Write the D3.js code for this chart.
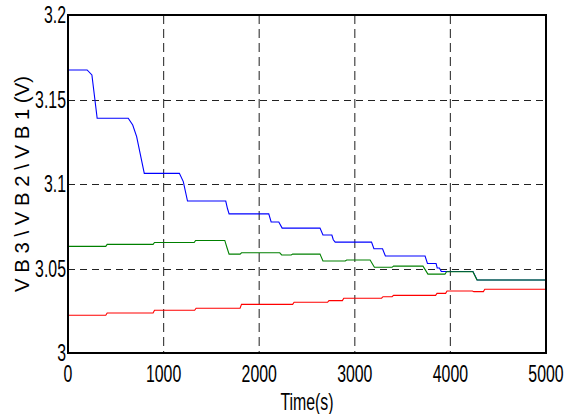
<!DOCTYPE html>
<html><head><meta charset="utf-8">
<script src="https://cdn.jsdelivr.net/npm/d3@7"></script>
<style>body{margin:0;background:#fff}svg{display:block}</style>
</head><body>
<svg id="c" width="571" height="414"></svg>
<script>
const xTicks = [0, 1000, 2000, 3000, 4000, 5000];
const yTicks = [3, 3.05, 3.1, 3.15, 3.2];
const yTickLabels = ["3", "3.05", "3.1", "3.15", "3.2"];
const xLabel = "Time(s)";
const yLabel = "V B 3 \\ V B 2 \\ V B 1 (V)";

const vb1 = [[0,3.1675],[200,3.1675],[250,3.1645],[305,3.1389],[630,3.1389],[677,3.1349],[718,3.128],[798,3.1063],[1165,3.1063],[1206,3.1014],[1250,3.0899],[1650,3.0899],[1668,3.0855],[1685,3.0823],[2100,3.0823],[2125,3.0775],[2205,3.0775],[2240,3.0739],[2636,3.0739],[2667,3.0698],[2760,3.0698],[2775,3.067],[2795,3.0656],[3175,3.0656],[3200,3.0617],[3290,3.0617],[3320,3.0574],[3735,3.0574],[3760,3.053],[3850,3.053],[3862,3.0503],[3885,3.0503],[3905,3.0482],[4236,3.0482],[4280,3.0432],[5000,3.0432]];
const vb2 = [[0,3.0631],[395,3.0631],[410,3.0643],[890,3.0643],[905,3.0654],[1320,3.0654],[1335,3.0666],[1640,3.0666],[1665,3.062],[1685,3.0585],[1800,3.0585],[1815,3.0593],[2215,3.0593],[2235,3.058],[2335,3.058],[2350,3.0585],[2636,3.0585],[2667,3.0544],[2900,3.0544],[2915,3.055],[3160,3.055],[3205,3.0507],[3390,3.0507],[3405,3.0514],[3713,3.0514],[3765,3.0467],[3943,3.0467],[3960,3.0481],[4236,3.0481],[4278,3.0432],[5000,3.0432]];
const vb3 = [[0,3.0223],[395,3.0223],[410,3.0237],[890,3.0237],[905,3.0253],[1325,3.0253],[1340,3.0265],[1800,3.0265],[1815,3.0288],[2350,3.0288],[2365,3.03],[2715,3.03],[2730,3.031],[2870,3.031],[2885,3.0324],[3280,3.0324],[3295,3.0333],[3390,3.0333],[3405,3.0341],[3845,3.0341],[3860,3.0353],[3950,3.0353],[3965,3.0367],[4230,3.0367],[4245,3.0363],[4345,3.0363],[4360,3.0377],[5000,3.0377]];

const svg = d3.select("#c");
const L = 68, R = 546, T = 15, B = 353;
const x = d3.scaleLinear().domain([0, 5000]).range([L, R]);
const y = d3.scaleLinear().domain([3, 3.2]).range([B, T]);
const font = "'Liberation Sans', Arial, sans-serif";
const FS = 23, SX = 0.69;

// grid
const g = svg.append("g");
g.selectAll("line.vx").data(xTicks.slice(1, -1)).join("line")
  .attr("x1", d => x(d)).attr("x2", d => x(d))
  .attr("y1", T).attr("y2", B)
  .attr("stroke", "#444").attr("stroke-width", 1.2).attr("stroke-dasharray", "9,5");
g.selectAll("line.hy").data(yTicks.slice(1, -1)).join("line")
  .attr("y1", d => Math.round(y(d)) + 0.5).attr("y2", d => Math.round(y(d)) + 0.5)
  .attr("x1", L).attr("x2", R)
  .attr("stroke", "#222").attr("stroke-width", 1).attr("stroke-dasharray", "7,5");

// lines
const line = d3.line().x(d => x(d[0])).y(d => y(d[1]));
[[vb3, "#ff0000"], [vb1, "#0000ff"], [vb2, "#008000"]].forEach(([data, col]) => {
  svg.append("path").datum(data).attr("d", line).attr("fill", "none")
    .attr("stroke", col).attr("stroke-width", 1.1);
});

// frame
svg.append("rect").attr("x", L).attr("y", T).attr("width", R - L).attr("height", B - T)
  .attr("fill", "none").attr("stroke", "#000").attr("stroke-width", 2);

// x tick labels
svg.selectAll("text.xt").data(xTicks).join("text")
  .attr("transform", d => `translate(${x(d)},382) scale(${SX},1)`)
  .attr("text-anchor", "middle").attr("font-family", font).attr("font-size", FS)
  .attr("fill", "#000").text(d => d);

// y tick labels
svg.selectAll("text.yt").data(yTicks).join("text")
  .attr("transform", d => `translate(66,${y(d) + 8}) scale(${SX},1)`)
  .attr("text-anchor", "end").attr("font-family", font).attr("font-size", FS)
  .attr("fill", "#000").text((d, i) => yTickLabels[i]);

// axis labels
svg.append("text")
  .attr("transform", `translate(${(L + R) / 2},410) scale(${SX},1)`)
  .attr("text-anchor", "middle").attr("font-family", font).attr("font-size", FS)
  .attr("fill", "#000").text(xLabel);

svg.append("text")
  .attr("transform", `translate(29,${(T + B) / 2}) rotate(-90)`)
  .attr("text-anchor", "middle").attr("font-family", font).attr("font-size", 21)
  .attr("textLength", 216).attr("lengthAdjust", "spacingAndGlyphs")
  .attr("fill", "#000").text(yLabel);
</script>
</body></html>
